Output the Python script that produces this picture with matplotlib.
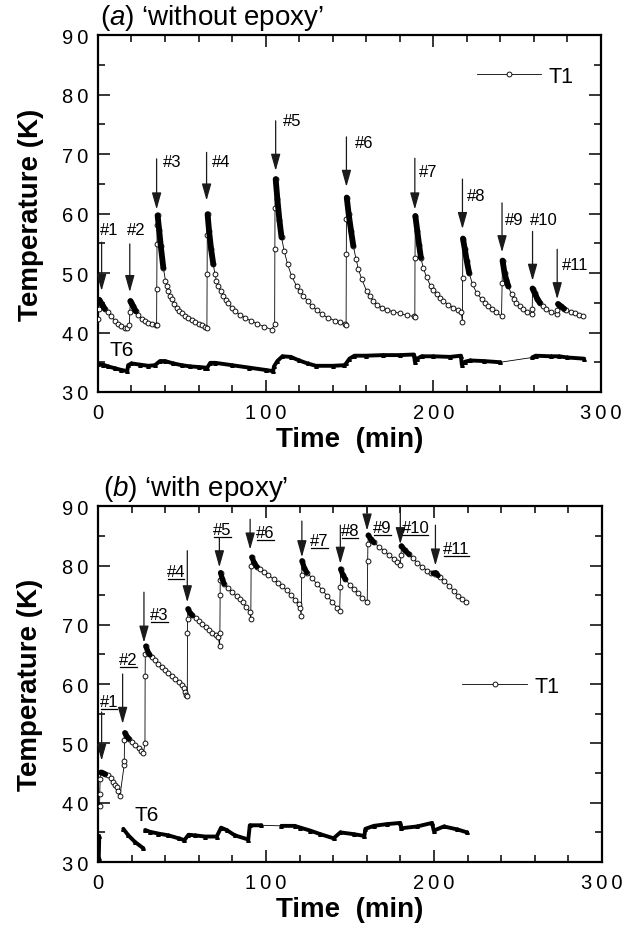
import numpy as np
import matplotlib
matplotlib.use("Agg")
import matplotlib.pyplot as plt
from matplotlib.ticker import FuncFormatter

plt.rcParams['font.family'] = ['Liberation Sans', 'DejaVu Sans']
plt.rcParams['mathtext.fontset'] = 'custom'
plt.rcParams['mathtext.rm'] = 'Liberation Sans'
plt.rcParams['mathtext.it'] = 'Liberation Sans:italic'

# ---------------- panel (a): without epoxy ----------------
a_t1_time = [0.0, 0.4, 0.8, 1.5, 2.5, 4, 6, 8, 10, 12, 14, 16, 17.5,
             18.8, 19.0, 19.4, 20, 21, 22.5, 24, 26, 28, 30, 32, 34.4,
             35.0, 35.1, 35.2, 35.3, 35.6, 36.5, 37.5, 39.0, 40.3, 41.2, 42.0, 43.0, 44.0, 45.5,
             47.0, 48.5, 50.0, 52.0, 54.0, 56.0, 58.0, 60.0, 62.0, 64.0,
             65.0, 65.1, 65.2, 65.4, 66.3, 67.5, 68.8, 69.8, 70.7, 71.7, 73.2, 74.7, 76.2,
             77.7, 79.7, 81.7, 84.7, 87.7, 91.0, 95.0, 99.0, 103.6,
             105.4, 105.5, 105.6, 106.0, 107.0, 108.2, 109.5, 111.1, 113.1, 115.5, 118.5,
             120.5, 122.5, 125.0, 127.4, 130.5, 133.4, 137.0, 141.3, 144.5, 147.5,
             148.0, 148.1, 148.2, 148.4, 149.5, 151.0, 152.3, 153.9, 155.3, 157.3, 160.2,
             162.2, 164.2, 166.7, 169.2, 172.5, 176.1, 180.0, 184.1, 188.4,
             189.0, 189.1, 189.3, 190.5, 191.5, 192.6, 194.0, 196.0, 198.4, 200.0, 202.0,
             204.0, 205.9, 209.0, 211.9, 214.5, 216.6,
             217.4, 217.5, 217.7, 218.8, 220.0, 221.4, 223.4, 225.8, 228.8, 230.8, 232.8,
             235.3, 237.7, 240.7,
             241.1, 241.3, 242.5, 243.6, 244.7, 246.7, 248.2, 249.6, 251.6, 253.6, 256.0, 258.6,
             259.0, 259.2, 260.5, 262.0, 263.5, 265.5, 267.5, 270.5, 273.5,
             274.0, 274.4, 276.0, 278.0, 279.4, 282.0, 284.4, 287.0, 289.4]
a_t1_temp = [42.2, 44.0, 45.5, 45.2, 44.7, 44.0, 43.4, 42.7, 42.0, 41.5, 41.1, 40.8, 40.7,
             41.2, 43.5, 45.3, 45.0, 44.4, 43.6, 42.9, 42.3, 41.9, 41.6, 41.4, 41.2,
             41.2, 47.3, 54.9, 58.1, 59.7, 57.3, 54.5, 50.9, 48.7, 47.8, 47.0, 46.2, 45.6, 44.8,
             44.2, 43.7, 43.25, 42.8, 42.4, 42.1, 41.8, 41.5, 41.3, 41.0,
             40.7, 49.8, 56.4, 59.9, 57.0, 54.0, 51.5, 49.8, 48.7, 47.8, 47.0, 46.2, 45.5,
             44.9, 44.2, 43.6, 43.0, 42.5, 42.0, 41.5, 41.0, 40.5,
             41.4, 54.1, 61.0, 65.8, 62.5, 59.0, 56.0, 53.7, 51.5, 49.5, 47.8,
             46.9, 46.2, 45.3, 44.5, 43.8, 43.1, 42.5, 42.0, 41.7, 41.4,
             41.3, 53.2, 59.1, 62.7, 60.0, 57.0, 54.6, 52.4, 50.7, 49.0, 47.0,
             46.1, 45.3, 44.7, 44.2, 43.8, 43.5, 43.2, 42.9, 42.7,
             42.6, 52.5, 59.6, 57.0, 54.8, 52.6, 50.9, 49.3, 47.8, 47.1, 46.4,
             45.8, 45.3, 44.7, 44.2, 43.8, 43.5,
             41.8, 49.1, 55.8, 54.0, 52.0, 50.0, 48.1, 46.7, 45.6, 45.0, 44.5,
             43.9, 43.4, 42.7,
             48.4, 52.1, 50.0, 48.8, 47.8, 46.4, 45.6, 45.0, 44.4, 43.9, 43.5, 43.1,
             44.0, 47.4, 46.6, 45.7, 45.0, 44.4, 43.9, 43.4, 43.1,
             43.8, 44.8, 44.4, 44.0, 43.8, 43.5, 43.2, 43.0, 42.8]

# densely sampled parts right after each pulse (appear as solid bands)
a_dense_time = [0.8, 2.5, 4, np.nan, 19.4, 20, 21, 22.5, np.nan,
                35.6, 36.5, 37.5, 39.0, np.nan, 65.4, 66.3, 67.5, 68.8, np.nan,
                106.0, 107.0, 108.2, 109.5, np.nan, 148.4, 149.5, 151.0, 152.3, np.nan,
                189.3, 190.5, 191.5, 192.6, np.nan, 217.7, 218.8, 220.0, 221.4, np.nan,
                241.3, 242.5, 243.6, 244.7, np.nan, 259.2, 260.5, 262.0, 263.5, np.nan,
                274.4, 276.0, 278.0]
a_dense_temp = [45.5, 44.7, 44.0, np.nan, 45.3, 45.0, 44.4, 43.6, np.nan,
                59.7, 57.3, 54.5, 50.9, np.nan, 59.9, 57.0, 54.0, 51.5, np.nan,
                65.8, 62.5, 59.0, 56.0, np.nan, 62.7, 60.0, 57.0, 54.6, np.nan,
                59.6, 57.0, 54.8, 52.6, np.nan, 55.8, 54.0, 52.0, 50.0, np.nan,
                52.1, 50.0, 48.8, 47.8, np.nan, 47.4, 46.6, 45.7, 45.0, np.nan,
                44.8, 44.4, 44.0]

a_t6_time = [0, 3, 6, 10, 14, 17.5, 18, 20, 25, 30, 34, 37, 40, 45, 50, 55, 60, 64, 65,
             67, 70, 80, 90, 100, 104.5, 105, 107, 110, 115, 120, 125, 130, 140, 147,
             148, 150, 153, 160, 170, 180, 188.5, 189, 190.5, 193, 200, 210, 216.5,
             217, 219, 222, 230, 240, 259, 261, 270, 275, 280, 290]
a_t6_temp = [34.7, 34.6, 34.3, 34.0, 33.7, 33.5, 34.5, 34.8, 34.6, 34.4, 34.5, 35.2, 35.2,
             34.8, 34.5, 34.3, 34.2, 34.1, 34.0, 34.9, 34.9, 34.5, 34.1, 33.7, 33.5, 34.3,
             35.2, 36.0, 35.9, 35.3, 34.8, 34.4, 34.4, 34.5, 34.8, 35.6, 36.1, 36.1, 36.2,
             36.2, 36.3, 35.1, 35.6, 36.0, 36.0, 35.9, 36.1, 34.6, 35.1, 35.3, 35.2, 35.0,
             35.8, 36.1, 36.0, 36.0, 35.8, 35.6]

a_labels = ['#1', '#2', '#3', '#4', '#5', '#6', '#7', '#8', '#9', '#10', '#11']
a_arrow_time = [2.2, 19, 35, 64.8, 106, 148.2, 189, 217.4, 241, 259.2, 273.9]
a_arrow_from = [55.2, 54.9, 69.2, 70.3, 75.6, 72.9, 69.3, 65.8, 61.8, 57.0, 54.0]
a_arrow_to = [47.0, 46.8, 60.7, 62.2, 67.2, 64.5, 60.7, 57.4, 53.5, 48.7, 45.6]
a_label_time = [0.9, 17.3, 38.8, 68.0, 110.3, 153.2, 191.6, 219.9, 242.7, 257.6, 276.5]
a_label_temp = [57.4, 57.4, 68.8, 68.7, 75.6, 72.0, 67.0, 63.1, 59.0, 59.0, 51.5]

# ---------------- panel (b): with epoxy ----------------
b_t1_time = [1.0, 1.1, 1.3, 1.6, 3.0, 4.5, 6.2, 7.7, 9.1, 10.1, 11.1, 12.1, 13.1,
             15.6, 15.7, 15.8, 16.0, 17.0, 18.5, 20.3, 22.2, 24.2, 25.7, 27.1,
             28.0, 28.1, 28.2, 28.5, 30.0, 32.0, 34.0, 36.0, 38.0, 40.0, 42.0, 44.0,
             46.0, 48.0, 50.0, 51.5, 52.0, 52.3,
             53.2, 53.3, 53.4, 53.6, 54.8, 56.2, 58.2, 60.2, 62.2, 64.2, 66.2, 68.1,
             70.0, 71.7, 72.4,
             72.6, 72.7, 72.8, 73.0, 74.0, 75.1, 77.5, 80.1, 82.5, 84.5, 86.1, 88.3,
             90.4, 91.0,
             91.2, 91.6, 93.0, 94.5, 96.6, 99.0, 101.5, 104.6, 107.0, 109.5, 112.5,
             115.0, 117.5, 119.5, 120.4, 121.0,
             121.3, 121.5, 122.8, 124.4, 127.4, 130.4, 133.4, 136.4, 139.4, 142.3, 143.9,
             144.2, 144.5, 145.8, 147.3, 149.8, 152.3, 154.8, 157.3, 160.3,
             160.6, 160.7, 161.0, 162.5, 164.2, 167.2, 170.2, 173.2, 176.2, 178.2, 180.0,
             180.4, 180.7, 182.5, 185.1, 187.6, 190.1, 193.1, 196.1, 198.5, 200.4,
             201.0, 203.5, 206.0, 209.0, 211.9, 214.5, 216.8, 218.9]
b_t1_temp = [39.5, 41.5, 44.0, 45.1, 45.0, 44.8, 44.6, 44.1, 43.5, 43.0, 42.6, 41.9, 41.1,
             46.3, 47.1, 50.5, 51.8, 51.3, 50.8, 50.3, 49.8, 49.3, 48.8, 48.4,
             50.0, 61.3, 65.1, 66.4, 65.3, 64.6, 64.0, 63.4, 62.9, 62.4, 61.9, 61.4,
             60.9, 60.4, 59.9, 59.4, 58.7, 58.1,
             58.0, 68.7, 70.9, 72.7, 72.0, 71.6, 71.1, 70.7, 70.2, 69.7, 69.2, 68.7,
             68.3, 67.9, 66.4,
             68.6, 75.1, 77.5, 78.8, 77.8, 76.9, 76.2, 75.5, 74.8, 74.3, 73.8, 73.0,
             72.2, 71.0,
             80.0, 81.4, 80.5, 79.8, 79.4, 78.9, 78.4, 77.7, 77.1, 76.5, 75.8,
             75.0, 74.2, 73.5, 72.9, 71.5,
             78.4, 80.8, 79.6, 78.8, 77.9, 76.9, 75.9, 74.9, 73.9, 72.9, 72.4,
             76.3, 79.4, 78.4, 77.7, 76.8, 76.0, 75.3, 74.6, 73.9,
             80.8, 83.6, 85.1, 84.4, 83.9, 83.2, 82.5, 81.8, 81.1, 80.6, 80.1,
             81.7, 83.3, 82.6, 81.9, 81.2, 80.5, 79.8, 79.1, 78.8, 78.6,
             78.8, 78.1, 77.4, 76.6, 75.7, 74.9, 74.4, 73.9]

b_dense_time = [1.6, 3.0, 4.5, np.nan, 16.0, 17.0, 18.5, np.nan, 28.5, 30.0, 31.0, np.nan,
                53.6, 54.8, 56.2, np.nan, 73.0, 74.0, 75.1, np.nan, 91.6, 93.0, 94.5, np.nan,
                121.5, 122.8, 124.4, np.nan, 144.5, 145.8, 147.3, np.nan,
                161.0, 162.5, 164.2, np.nan, 180.7, 182.5, 185.1, np.nan, 199.5, 201.0, 202.5]
b_dense_temp = [45.1, 45.0, 44.8, np.nan, 51.8, 51.3, 50.8, np.nan, 66.4, 65.3, 64.9, np.nan,
                72.7, 72.0, 71.6, np.nan, 78.8, 77.8, 76.9, np.nan, 81.4, 80.5, 79.8, np.nan,
                80.8, 79.6, 78.8, np.nan, 79.4, 78.4, 77.7, np.nan,
                85.1, 84.4, 83.9, np.nan, 83.3, 82.6, 81.9, np.nan, 78.7, 78.8, 78.3]

b_t6_time = [0.5, 0.8, np.nan, 15.1, 18.1, 22.0, 27.1, np.nan,
             28.1, 31.0, 36.0, 42.0, 48.0, 51.5, 53.9, 57.8, 63.8, 70.7, 73.3, 76.6,
             81.5, 89.5, 90.4, 97.3, 109.2, 117.1, 120.5, 126.4, 132.4, 140.3, 144.3,
             152.3, 158.6, 159.2, 164.2, 172.1, 180.0, 180.5, 190.0, 198.9, 199.9,
             205.9, 213.9, 219.8]
b_t6_temp = [30.6, 34.4, np.nan, 35.6, 34.5, 33.4, 32.3, np.nan,
             35.4, 35.1, 34.8, 34.5, 34.0, 33.7, 34.6, 34.5, 34.3, 34.3, 35.8, 35.4,
             34.5, 33.8, 36.2, 36.2, 36.1, 36.1, 35.8, 35.3, 34.7, 34.0, 35.0,
             34.7, 34.4, 35.6, 36.1, 36.4, 36.6, 35.7, 36.0, 36.6, 35.3,
             36.0, 35.5, 35.0]

b_labels = ['#1', '#2', '#3', '#4', '#5', '#6', '#7', '#8', '#9', '#10', '#11']
b_arrow_time = [2.2, 14.7, 27.4, 53.2, 72.3, 90.6, 121.4, 144.3, 160.2, 180.0, 200.9]
b_arrow_from = [55.3, 61.7, 75.5, 82.5, 84.7, 87.8, 87.5, 86.8, 90.0, 90.0, 86.8]
b_arrow_to = [47.1, 53.3, 67.0, 73.8, 79.7, 82.7, 81.4, 80.3, 85.9, 83.6, 80.0]
b_label_time = [1.0, 12.5, 31.0, 41.0, 68.6, 94.2, 126.4, 144.6, 163.8, 180.7, 205.5]
b_label_temp = [57.0, 64.2, 71.8, 79.0, 86.0, 85.5, 84.2, 85.9, 86.4, 86.4, 82.8]


def spaced(v, pos):
    # tick labels of the original have wide letter spacing
    return '\u2009'.join(str(int(round(v))))


def draw_panel(ax, t1_t, t1_T, dense_t, dense_T, t6_t, t6_T, dense_lw):
    ax.plot(t1_t, t1_T, color='black', lw=0.6, marker='o', ms=3.5, mfc='white',
            mec='black', mew=0.65, label='T1', zorder=3)
    ax.plot(dense_t, dense_T, color='black', lw=dense_lw, solid_capstyle='round', zorder=4)
    t6_t = np.asarray(t6_t, float)
    t6_T = np.asarray(t6_T, float)
    ax.plot(t6_t, t6_T, color='black', lw=0.6, marker='^', ms=2.6, zorder=3)
    # thick band where T6 was sampled densely (break across long gaps)
    gaps = np.where(np.diff(t6_t) > 10)[0]
    band_t = np.insert(t6_t, gaps + 1, np.nan)
    band_T = np.insert(t6_T, gaps + 1, np.nan)
    ax.plot(band_t, band_T, color='black', lw=2.8, solid_capstyle='round', zorder=3)

    ax.set_xlim(0, 300)
    ax.set_ylim(30, 90)
    ax.set_xticks([0, 100, 200, 300])
    ax.set_xticks(np.arange(0, 301, 20), minor=True)
    ax.set_yticks(np.arange(30, 91, 10))
    ax.set_yticks(np.arange(30, 91, 5), minor=True)
    ax.xaxis.set_major_formatter(FuncFormatter(spaced))
    ax.yaxis.set_major_formatter(FuncFormatter(spaced))
    ax.tick_params(which='both', direction='in', top=True, right=True, width=1.1)
    ax.tick_params(which='major', length=8.5, labelsize=14.5)
    ax.tick_params(axis='x', which='major', pad=8)
    ax.tick_params(axis='y', which='major', pad=7)
    ax.tick_params(which='minor', length=5)
    for s in ax.spines.values():
        s.set_linewidth(1.6)
    ax.set_xlabel('Time  (min)', fontsize=20, fontweight='bold', labelpad=3)
    ax.set_ylabel('Temperature (K)', fontsize=20, fontweight='bold')
    ax.yaxis.set_label_coords(-0.108, 0.5)


def draw_arrows(ax, labels, at, a0, a1, lt, lT):
    texts = []
    for lab, x, y0, y1, tx, ty in zip(labels, at, a0, a1, lt, lT):
        ax.annotate('', xy=(x, y1), xytext=(x, y0),
                    arrowprops=dict(arrowstyle='-|>,head_length=0.85,head_width=0.24',
                                    mutation_scale=12, color='0.1', lw=0.9,
                                    shrinkA=0, shrinkB=0),
                    annotation_clip=False)
        texts.append(ax.text(tx, ty, lab, fontsize=12, ha='left', va='center'))
    return texts


fig = plt.figure(figsize=(6.4, 9.29), dpi=100)
ax1 = fig.add_axes([0.153, 0.577, 0.786, 0.384])
ax2 = fig.add_axes([0.153, 0.071, 0.7875, 0.383])

draw_panel(ax1, a_t1_time, a_t1_temp, a_dense_time, a_dense_temp, a_t6_time, a_t6_temp, 4.2)
draw_arrows(ax1, a_labels, a_arrow_time, a_arrow_from, a_arrow_to, a_label_time, a_label_temp)
ax1.text(7.2, 37.2, 'T6', fontsize=15, ha='left', va='center')
ax1.text(0.005, 1.008, r"($\mathit{a}$) ‘without epoxy’", transform=ax1.transAxes,
         fontsize=20, ha='left', va='bottom')
ax1.legend(loc='center left', bbox_to_anchor=(0.753, 0.885), frameon=False, fontsize=15.5,
           handlelength=3.0, handletextpad=0.35, borderpad=0, borderaxespad=0, numpoints=1)

draw_panel(ax2, b_t1_time, b_t1_temp, b_dense_time, b_dense_temp, b_t6_time, b_t6_temp, 3.8)
b_texts = draw_arrows(ax2, b_labels, b_arrow_time, b_arrow_from, b_arrow_to,
                      b_label_time, b_label_temp)
ax2.text(22, 38.1, 'T6', fontsize=15, ha='left', va='center')
ax2.text(0.01, 1.008, r"($\mathit{b}$) ‘with epoxy’", transform=ax2.transAxes,
         fontsize=20, ha='left', va='bottom')
ax2.legend(loc='center left', bbox_to_anchor=(0.723, 0.4935), frameon=False, fontsize=15.5,
           handlelength=3.0, handletextpad=0.35, borderpad=0, borderaxespad=0, numpoints=1)

# underline the labels of panel (b)
fig.canvas.draw()
renderer = fig.canvas.get_renderer()
inv = ax2.transData.inverted()
for txt in b_texts:
    bb = txt.get_window_extent(renderer=renderer)
    (x0, y0), (x1, _) = inv.transform([(bb.x0 + 1, bb.y0), (bb.x1 - 1, bb.y0)])
    ax2.plot([x0, x1], [y0, y0], color='black', lw=0.9, clip_on=False)

fig.savefig('out.png', dpi=100)
